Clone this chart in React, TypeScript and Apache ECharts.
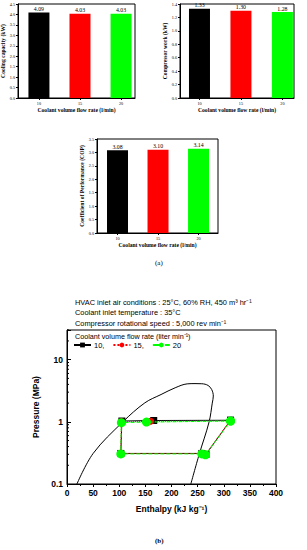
import React, { useEffect, useRef } from 'react';
import * as echarts from 'echarts';

// ---- data: bar charts (a) ----
const flowRates = [10, 15, 20];
const coolingCapacity = [4.09, 4.03, 4.03];
const compressorWork = [1.33, 1.3, 1.28];
const copValues = [3.08, 3.1, 3.14];
const barColors = ['#000000', '#ff0000', '#00ff00'];

// ---- data: P-h diagram (b) ----
// saturation dome [enthalpy kJ/kg, pressure MPa]
const domeEnthalpy = [19, 50, 107, 149, 180, 207, 230, 245, 258, 270, 277, 280, 278, 272, 253, 237];
const domePressure = [0.1, 0.31, 1.0, 2.02, 2.75, 3.53, 4.08, 4.12, 4.1, 3.85, 3.3, 2.6, 2.0, 1.0, 0.3, 0.1];
// cycle points: compressor outlet -> condenser -> expansion -> evaporator -> compressor inlet
const cycle10H = [313, 166, 105, 103, 258, 266, 313];
const cycle10P = [1.06, 1.05, 1.03, 0.31, 0.31, 0.3, 1.06];
const cycle15H = [312, 160, 104, 103, 259, 265, 312];
const cycle15P = [1.04, 1.02, 1.0, 0.31, 0.31, 0.3, 1.04];
const cycle20H = [313, 152, 104, 103, 258, 265, 313];
const cycle20P = [1.03, 0.99, 0.97, 0.305, 0.305, 0.295, 1.03];
const pressureMinorTicks = [0.2, 0.3, 0.4, 0.5, 0.6, 0.7, 0.8, 0.9, 2, 3, 4, 5, 6, 7, 8, 9, 20, 30];

const SERIF = '"Liberation Serif", "Times New Roman", serif';
const SANS = '"Liberation Sans", Arial, sans-serif';

const zip = (a: number[], b: number[]) => a.map((v, i) => [v, b[i]]);

function barGridAxes(idx: number, xmin: number, xmax: number, ymax: number, yint: number, yName: string, yGap: number) {
  const xAxis = {
    type: 'value',
    gridIndex: idx,
    min: xmin,
    max: xmax,
    name: 'Coolant volume flow rate (l/min)',
    nameLocation: 'middle',
    nameGap: 9,
    nameTextStyle: { fontFamily: SERIF, fontSize: 5.6, fontWeight: 'bold', color: '#000' },
    axisLine: { show: true, lineStyle: { color: '#000', width: 1 } },
    axisTick: { show: true, length: 2, customValues: flowRates, lineStyle: { color: '#000' } },
    axisLabel: { customValues: flowRates, fontFamily: SERIF, fontSize: 4.2, color: '#000', margin: 3 },
    splitLine: { show: false },
  };
  const yAxis = {
    type: 'value',
    gridIndex: idx,
    min: 0,
    max: ymax,
    interval: yint,
    name: yName,
    nameLocation: 'middle',
    nameGap: yGap,
    nameTextStyle: { fontFamily: SERIF, fontSize: 5.6, fontWeight: 'bold', color: '#000' },
    axisLine: { show: true, lineStyle: { color: '#000', width: 1 } },
    axisTick: { show: true, length: 2, lineStyle: { color: '#000' } },
    axisLabel: {
      fontFamily: SERIF,
      fontSize: 4.2,
      color: '#000',
      margin: 3,
      formatter: (v: number) => v.toFixed(1),
    },
    splitLine: { show: false },
  };
  return { xAxis, yAxis };
}

function barSeries(idx: number, values: number[]) {
  return {
    type: 'custom',
    xAxisIndex: idx,
    yAxisIndex: idx,
    data: flowRates.map((f, i) => [f, values[i]]),
    renderItem: (params: any, api: any) => {
      const x = api.value(0);
      const v = api.value(1);
      const top = api.coord([x, v]);
      const base = api.coord([x, 0]);
      const w = 21;
      return {
        type: 'group',
        children: [
          {
            type: 'rect',
            shape: { x: top[0] - w / 2, y: top[1], width: w, height: base[1] - top[1] },
            style: { fill: barColors[params.dataIndex] },
          },
          {
            type: 'text',
            x: top[0],
            y: top[1] - 0.5,
            style: {
              text: v.toFixed(2),
              align: 'center',
              verticalAlign: 'bottom',
              fontFamily: SERIF,
              fontSize: 5.8,
              fill: '#000',
            },
          },
        ],
      };
    },
  };
}

export default function App() {
  const ref = useRef<HTMLDivElement>(null);
  useEffect(() => {
    if (!ref.current) return;
    const chart = echarts.init(ref.current, null, { renderer: 'svg' });
    const a0 = barGridAxes(0, 7.45, 21.7, 4.5, 0.5, 'Cooling capacity (kW)', 9);
    const a1 = barGridAxes(1, 7.65, 21.4, 1.4, 0.2, 'Compressor work (kW)', 9);
    const a2 = barGridAxes(2, 7.47, 22.4, 3.5, 0.5, 'Coefficient of Performance (COP)', 9);

    const phX = {
      type: 'value',
      gridIndex: 3,
      min: 0,
      max: 400,
      interval: 50,
      name: 'Enthalpy (kJ kg⁻¹)',
      nameLocation: 'middle',
      nameGap: 20,
      nameTextStyle: { fontFamily: SANS, fontSize: 8.5, fontWeight: 'bold', color: '#000' },
      axisLine: { show: true, lineStyle: { color: '#000', width: 1 } },
      axisTick: { show: true, length: 3, lineStyle: { color: '#000' } },
      minorTick: { show: true, splitNumber: 2, length: 2, lineStyle: { color: '#000' } },
      axisLabel: { fontFamily: SANS, fontSize: 8.5, fontWeight: 'bold', color: '#000', margin: 4 },
      splitLine: { show: false },
    };
    const phY = {
      type: 'log',
      logBase: 10,
      gridIndex: 3,
      min: 0.1,
      max: 30,
      name: 'Pressure (MPa)',
      nameLocation: 'middle',
      nameGap: 24,
      nameTextStyle: { fontFamily: SANS, fontSize: 8.5, fontWeight: 'bold', color: '#000' },
      axisLine: { show: true, lineStyle: { color: '#000', width: 1 } },
      axisTick: { show: true, inside: true, length: 4, lineStyle: { color: '#000' } },
      axisLabel: {
        fontFamily: SANS,
        fontSize: 8.5,
        fontWeight: 'bold',
        color: '#000',
        margin: 4,
        formatter: (v: number) => {
          const l = Math.log10(v);
          if (Math.abs(l - Math.round(l)) > 1e-6) return '';
          return String(Number(v.toPrecision(1)));
        },
      },
      splitLine: { show: false },
    };

    const gridBase = { show: true, borderColor: '#000', borderWidth: 1, containLabel: false, outerBoundsMode: 'none' };
    const option: any = {
      animation: false,
      backgroundColor: '#fff',
      grid: [
        { ...gridBase, left: 18, top: 4, width: 117, height: 94 },
        { ...gridBase, left: 180, top: 4, width: 114, height: 94 },
        { ...gridBase, left: 97, top: 139, width: 121, height: 94 },
        { ...gridBase, left: 67, top: 330, width: 209, height: 154 },
      ],
      xAxis: [a0.xAxis, a1.xAxis, a2.xAxis, phX],
      yAxis: [a0.yAxis, a1.yAxis, a2.yAxis, phY],
      legend: {
        data: ['10', '15', '20'],
        left: 73,
        top: 341,
        itemWidth: 17,
        itemHeight: 6,
        itemGap: 8,
        padding: 0,
        formatter: (n: string) => (n === '20' ? n : n + ','),
        textStyle: { fontFamily: SANS, fontSize: 7.5, color: '#000', padding: [0, 0, 0, -2] },
      },
      graphic: [
        { type: 'text', left: 155, top: 259, style: { text: '(a)', fontFamily: SERIF, fontSize: 7, fill: '#000' } },
        { type: 'text', left: 155, top: 537, style: { text: '(b)', fontFamily: SERIF, fontSize: 7, fontWeight: 'bold', fill: '#000' } },
        {
          type: 'text', left: 75, top: 298.5,
          style: { text: 'HVAC inlet air conditions : 25°C, 60% RH, 450 m³ hr⁻¹', fontFamily: SANS, fontSize: 7.4, fill: '#000' },
        },
        {
          type: 'text', left: 75, top: 309,
          style: { text: 'Coolant inlet temperature : 35°C', fontFamily: SANS, fontSize: 7.4, fill: '#000' },
        },
        {
          type: 'text', left: 75, top: 319.5,
          style: { text: 'Compressor rotational speed : 5,000 rev min⁻¹', fontFamily: SANS, fontSize: 7.4, fill: '#000' },
        },
        {
          type: 'text', left: 75, top: 332.5,
          style: { text: 'Coolant volume flow rate (liter min⁻¹)', fontFamily: SANS, fontSize: 7.2, fill: '#000' },
        },
      ],
      series: [
        barSeries(0, coolingCapacity),
        barSeries(1, compressorWork),
        barSeries(2, copValues),
        {
          type: 'custom',
          xAxisIndex: 3,
          yAxisIndex: 3,
          silent: true,
          data: pressureMinorTicks.map((p) => [0, p]),
          renderItem: (params: any, api: any) => {
            const pt = api.coord([api.value(0), api.value(1)]);
            return {
              type: 'line',
              shape: { x1: pt[0], y1: pt[1], x2: pt[0] + 2, y2: pt[1] },
              style: { stroke: '#000', lineWidth: 1 },
            };
          },
        },
        {
          name: 'dome',
          type: 'line',
          xAxisIndex: 3,
          yAxisIndex: 3,
          data: zip(domeEnthalpy, domePressure),
          smooth: 0.35,
          showSymbol: false,
          symbol: 'none',
          lineStyle: { color: '#000', width: 1 },
          z: 2,
        },
        {
          name: '10',
          type: 'line',
          xAxisIndex: 3,
          yAxisIndex: 3,
          data: zip(cycle10H, cycle10P),
          symbol: 'rect',
          symbolSize: 7,
          itemStyle: { color: '#000' },
          lineStyle: { color: '#000', width: 1, type: 'solid' },
          z: 3,
        },
        {
          name: '15',
          type: 'line',
          xAxisIndex: 3,
          yAxisIndex: 3,
          data: zip(cycle15H, cycle15P),
          symbol: 'circle',
          symbolSize: 7,
          itemStyle: { color: '#ff0000' },
          lineStyle: { color: '#ff0000', width: 1, type: 'dotted' },
          z: 4,
        },
        {
          name: '20',
          type: 'line',
          xAxisIndex: 3,
          yAxisIndex: 3,
          data: zip(cycle20H, cycle20P),
          symbol: 'circle',
          symbolSize: 9,
          itemStyle: { color: '#00ff00' },
          lineStyle: { color: '#00ff00', width: 1, type: 'dashed' },
          z: 5,
        },
      ],
    };
    chart.setOption(option);
    return () => chart.dispose();
  }, []);
  return <div ref={ref} style={{ position: 'fixed', left: 0, top: 0, width: 307, height: 550 }} />;
}
